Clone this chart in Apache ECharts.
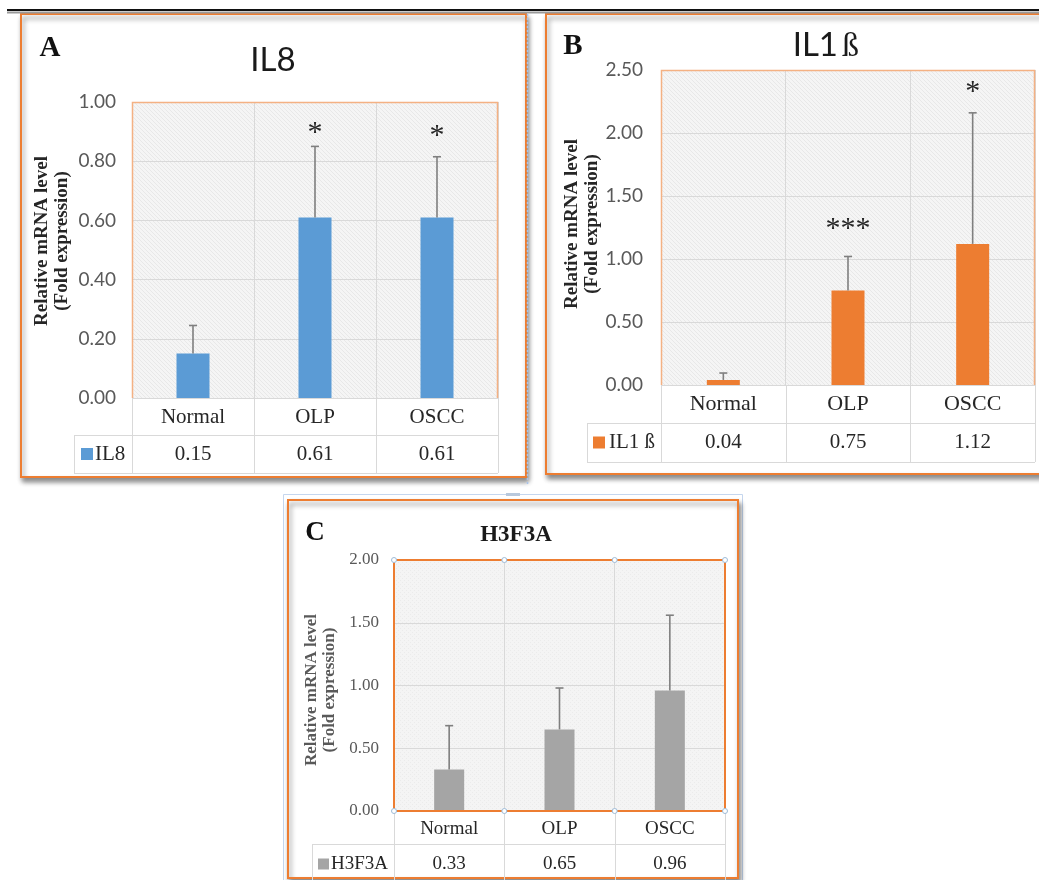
<!DOCTYPE html>
<html>
<head>
<meta charset="utf-8">
<script src="https://cdn.jsdelivr.net/npm/echarts@6/dist/echarts.min.js"></script>
<style>
html,body{margin:0;padding:0;background:#fff;}
#main{width:1039px;height:880px;}
</style>
</head>
<body>
<div id="main"></div>
<script>
// ---------------- DATA ----------------
const categories = ['Normal', 'OLP', 'OSCC'];

const il8Mean = [0.15, 0.61, 0.61];
const il8Sd = [0.095, 0.24, 0.205];
const il8Stars = ['', '*', '*'];
const il8StarAt = [null, 0.92, 0.91];
const il8YTicks = [0, 0.2, 0.4, 0.6, 0.8, 1.0];

const il1bMean = [0.04, 0.75, 1.12];
const il1bSd = [0.055, 0.27, 1.04];
const il1bStars = ['', '***', '*'];
const il1bStarAt = [null, 1.29, 2.38];
const il1bYTicks = [0, 0.5, 1.0, 1.5, 2.0, 2.5];

const h3Mean = [0.33, 0.65, 0.96];
const h3Sd = [0.35, 0.33, 0.60];
const h3Stars = ['', '', ''];
const h3StarAt = [null, null, null];
const h3YTicks = [0, 0.5, 1.0, 1.5, 2.0];

// ---------------- STYLE / LAYOUT ----------------
const SERIF = '"Liberation Serif", "Times New Roman", serif';
const SANS = 'Lato, "Open Sans", sans-serif';

function makePattern(base, line, kind) {
  const c = document.createElement('canvas');
  c.width = 4; c.height = 4;
  const ctx = c.getContext('2d');
  ctx.fillStyle = base; ctx.fillRect(0, 0, 4, 4);
  ctx.fillStyle = line;
  if (kind === 'diag') {
    for (let i = 0; i < 4; i++) ctx.fillRect(i, i, 1, 1);
  } else {
    ctx.fillRect(0, 0, 1, 1); ctx.fillRect(2, 2, 1, 1);
  }
  return { image: c, repeat: 'repeat' };
}

const panels = [
  {
    name: 'IL8', letter: 'A', mean: il8Mean, sd: il8Sd, stars: il8Stars, starAt: il8StarAt, ticks: il8YTicks,
    color: '#5b9bd5', grid: { left: 132, top: 102, width: 366, height: 296 }, barWidth: 33,
    tickFont: { fontFamily: SANS, fontSize: 19, color: '#595959' }, tickMargin: 16,
    catFont: 21, catMargin: 19, valFont: 21,
    row1: 435, row2: 473, legLeft: 74, keyDx: 7, keySize: 12, textDx: 21, legText: 'IL8',
    axisName: { x: 52, y: 241, size: 19, lh: 20, color: '#262626' },
    frame: { x: 21, y: 14, w: 505, h: 463 },
    plotBorder: '#f4b183', fullBorder: false,
    bg: makePattern('#f5f5f5', '#e8e8e8', 'diag')
  },
  {
    name: 'IL1ß', letter: 'B', mean: il1bMean, sd: il1bSd, stars: il1bStars, starAt: il1bStarAt, ticks: il1bYTicks,
    color: '#ed7d31', grid: { left: 661, top: 70, width: 374, height: 315 }, barWidth: 33,
    tickFont: { fontFamily: SANS, fontSize: 19, color: '#595959' }, tickMargin: 18,
    catFont: 22, catMargin: 19, valFont: 21,
    row1: 423, row2: 462, legLeft: 587, keyDx: 6, keySize: 12, textDx: 22, legText: 'IL1 ß',
    axisName: { x: 582, y: 224, size: 19, lh: 20, color: '#262626' },
    frame: { x: 546, y: 14, w: 510, h: 460 },
    plotBorder: '#f4b183', fullBorder: false,
    bg: makePattern('#f5f5f5', '#e8e8e8', 'diag')
  },
  {
    name: 'H3F3A', letter: 'C', mean: h3Mean, sd: h3Sd, stars: h3Stars, starAt: h3StarAt, ticks: h3YTicks,
    color: '#a5a5a5', grid: { left: 394, top: 560, width: 331, height: 251 }, barWidth: 30,
    tickFont: { fontFamily: SERIF, fontSize: 17, color: '#595959' }, tickMargin: 15,
    catFont: 19, catMargin: 18, valFont: 19,
    row1: 844, row2: 884, legLeft: 312, keyDx: 6, keySize: 11, textDx: 19, legText: 'H3F3A',
    axisName: { x: 321, y: 690, size: 17, lh: 18, color: '#595959' },
    frame: { x: 288, y: 500, w: 450, h: 378 },
    plotBorder: '#ed7d31', fullBorder: true,
    bg: makePattern('#f4f4f4', '#ebebeb', 'dot')
  }
];

const grids = [], xAxes = [], yAxes = [], series = [], graphics = [];

// page decorations
graphics.push({ type: 'line', z: 50, shape: { x1: 7, y1: 10, x2: 1039, y2: 10 }, style: { stroke: '#111', lineWidth: 2 } });
graphics.push({ type: 'line', z: 50, shape: { x1: 7, y1: 12.5, x2: 1039, y2: 12.5 }, style: { stroke: '#9a9a9a', lineWidth: 2 } });

panels.forEach((p, pi) => {
  const g = p.grid;
  const L = g.left, T = g.top, R = g.left + g.width, B = g.top + g.height;
  const colW = g.width / categories.length;
  const maxV = p.ticks[p.ticks.length - 1];
  const step = p.ticks[1] - p.ticks[0];

  // frame
  const f = p.frame;
  graphics.push({
    type: 'rect', z: -20, shape: { x: f.x, y: f.y, width: f.w, height: f.h },
    style: { fill: '#fff', stroke: '#ed7d31', lineWidth: 2, shadowBlur: 5, shadowOffsetX: 2, shadowOffsetY: 4, shadowColor: 'rgba(0,0,0,0.45)' }
  });

  grids.push({ left: L, top: T, width: g.width, height: g.height, show: true, backgroundColor: p.bg, borderWidth: 0, containLabel: false });

  xAxes.push({
    type: 'category', gridIndex: pi, data: categories, boundaryGap: true,
    axisLine: { show: false }, axisTick: { show: false },
    splitLine: { show: true, lineStyle: { color: '#d9d9d9', width: 1 } },
    axisLabel: { margin: p.catMargin, verticalAlign: 'middle', fontFamily: SERIF, fontSize: p.catFont, color: '#262626', interval: 0 }
  });
  yAxes.push({
    type: 'value', gridIndex: pi, min: p.ticks[0], max: maxV, interval: step,
    axisLine: { show: false }, axisTick: { show: false },
    splitLine: { show: true, lineStyle: { color: '#d9d9d9', width: 1 } },
    axisLabel: Object.assign({ margin: p.tickMargin, formatter: v => v.toFixed(2) }, p.tickFont)
  });

  series.push({
    type: 'bar', xAxisIndex: pi, yAxisIndex: pi, data: p.mean, barWidth: p.barWidth,
    itemStyle: { color: p.color }, z: 3, silent: true
  });

  const stars = p.stars, starAt = p.starAt;
  series.push({
    type: 'custom', xAxisIndex: pi, yAxisIndex: pi, z: 4, silent: true,
    data: p.mean.map((m, i) => [i, m, m + p.sd[i]]),
    renderItem: function (params, api) {
      const base = api.coord([api.value(0), api.value(1)]);
      const top = api.coord([api.value(0), api.value(2)]);
      const children = [
        { type: 'line', shape: { x1: base[0], y1: base[1], x2: top[0], y2: top[1] }, style: { stroke: '#7f7f7f', lineWidth: 1.6 } },
        { type: 'line', shape: { x1: top[0] - 4, y1: top[1], x2: top[0] + 4, y2: top[1] }, style: { stroke: '#7f7f7f', lineWidth: 1.6 } }
      ];
      const s = stars[params.dataIndex];
      if (s) {
        const sp = api.coord([api.value(0), starAt[params.dataIndex]]);
        children.push({
          type: 'text', x: sp[0], y: sp[1] + 7,
          style: { text: s, fontFamily: SERIF, fontSize: 30, fill: '#262626', align: 'center', verticalAlign: 'middle' }
        });
      }
      return { type: 'group', children: children };
    }
  });

  // plot border
  if (p.fullBorder) {
    graphics.push({ type: 'rect', z: 20, shape: { x: L, y: T, width: g.width, height: g.height }, style: { fill: 'none', stroke: p.plotBorder, lineWidth: 2 } });
    for (let i = 0; i <= categories.length; i++) {
      [T, B].forEach(yy => graphics.push({ type: 'circle', z: 21, shape: { cx: L + i * colW, cy: yy, r: 2.5 }, style: { fill: '#fff', stroke: '#9dbbd8', lineWidth: 1 } }));
    }
  } else {
    graphics.push({ type: 'polyline', z: 20, shape: { points: [[L + 0.5, B], [L + 0.5, T + 0.5], [R - 0.5, T + 0.5], [R - 0.5, B]] }, style: { fill: 'none', stroke: p.plotBorder, lineWidth: 1.5 } });
  }

  // data table
  const tl = '#d9d9d9';
  for (let i = 0; i <= categories.length; i++) {
    const xx = Math.round(L + i * colW) + 0.5;
    graphics.push({ type: 'line', z: 10, shape: { x1: xx, y1: B, x2: xx, y2: p.row2 }, style: { stroke: tl, lineWidth: 1 } });
  }
  [p.row1, p.row2].forEach(yy => graphics.push({ type: 'line', z: 10, shape: { x1: p.legLeft, y1: yy + 0.5, x2: R, y2: yy + 0.5 }, style: { stroke: tl, lineWidth: 1 } }));
  graphics.push({ type: 'line', z: 10, shape: { x1: p.legLeft + 0.5, y1: p.row1, x2: p.legLeft + 0.5, y2: p.row2 }, style: { stroke: tl, lineWidth: 1 } });
  const vy = (p.row1 + p.row2) / 2;
  p.mean.forEach((m, i) => graphics.push({
    type: 'text', z: 10, x: L + (i + 0.5) * colW, y: vy,
    style: { text: m.toFixed(2), fontFamily: SERIF, fontSize: p.valFont, fill: '#262626', align: 'center', verticalAlign: 'middle' }
  }));
  graphics.push({ type: 'rect', z: 10, shape: { x: p.legLeft + p.keyDx, y: vy - p.keySize / 2, width: p.keySize, height: p.keySize }, style: { fill: p.color } });
  graphics.push({ type: 'text', z: 10, x: p.legLeft + p.textDx, y: vy, style: { text: p.legText, fontFamily: SERIF, fontSize: p.valFont, fill: '#262626', align: 'left', verticalAlign: 'middle' } });

  // axis name
  const an = p.axisName;
  graphics.push({
    type: 'text', z: 10, x: an.x, y: an.y, rotation: Math.PI / 2,
    style: { text: 'Relative mRNA level\n(Fold expression)', fontFamily: SERIF, fontWeight: 'bold', fontSize: an.size, lineHeight: an.lh, fill: an.color, align: 'center', verticalAlign: 'middle' }
  });
});

// titles and panel letters
graphics.push({ type: 'text', z: 10, x: 273, y: 60, style: { text: 'IL8', fontFamily: SANS, fontSize: 33, fill: '#1a1a1a', align: 'center', verticalAlign: 'middle' } });
graphics.push({ type: 'text', z: 10, x: 838, y: 62, style: { text: 'IL1', fontFamily: SANS, fontSize: 33, fill: '#1a1a1a', align: 'right', verticalAlign: 'bottom' } });
graphics.push({ type: 'text', z: 10, x: 842, y: 64, style: { text: 'ß', fontFamily: SERIF, fontSize: 34, fill: '#1a1a1a', align: 'left', verticalAlign: 'bottom' } });
graphics.push({ type: 'text', z: 10, x: 516, y: 535, style: { text: 'H3F3A', fontFamily: SERIF, fontWeight: 'bold', fontSize: 23, fill: '#1a1a1a', align: 'center', verticalAlign: 'middle' } });
[['A', 50, 49, 29], ['B', 573, 47, 29], ['C', 315, 533, 27]].forEach(l => graphics.push({
  type: 'text', z: 10, x: l[1], y: l[2], style: { text: l[0], fontFamily: SERIF, fontWeight: 'bold', fontSize: l[3], fill: '#111', align: 'center', verticalAlign: 'middle' }
}));

// selection decorations
graphics.push({ type: 'line', z: 30, shape: { x1: 527.5, y1: 14, x2: 527.5, y2: 486 }, style: { stroke: '#a9c4eb', lineWidth: 1.5, lineDash: [2, 2] } });
graphics.push({ type: 'rect', z: -25, shape: { x: 283.5, y: 494.5, width: 459, height: 400 }, style: { fill: 'none', stroke: '#c5d6ee', lineWidth: 1 } });
graphics.push({ type: 'rect', z: 31, shape: { x: 506, y: 493, width: 14, height: 3 }, style: { fill: '#b8c8dc' } });

const chart = echarts.init(document.getElementById('main'), null, { renderer: 'canvas' });
chart.setOption({
  animation: false,
  backgroundColor: '#fff',
  grid: grids,
  xAxis: xAxes,
  yAxis: yAxes,
  series: series,
  graphic: { elements: graphics }
});
</script>
</body>
</html>
